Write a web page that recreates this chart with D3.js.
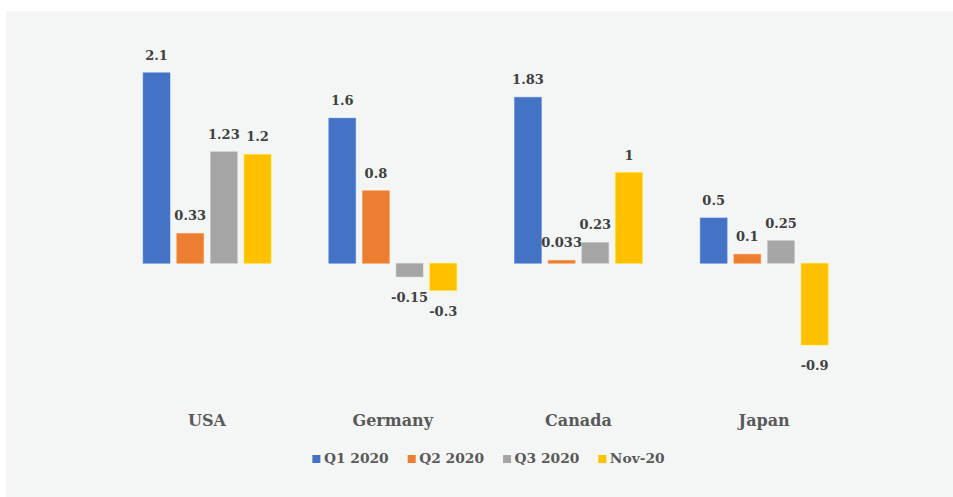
<!DOCTYPE html>
<html>
<head>
<meta charset="utf-8">
<script src="https://cdn.jsdelivr.net/npm/d3@7"></script>
<style>
  html, body { margin: 0; padding: 0; background: #ffffff; }
  svg { display: block; }
</style>
</head>
<body>
<svg id="chart" width="953" height="497"></svg>
<script>
// Growth figures by country and period
const countries = ["USA", "Germany", "Canada", "Japan"];
const seriesNames = ["Q1 2020", "Q2 2020", "Q3 2020", "Nov-20"];
const q1_2020 = [2.1, 1.6, 1.83, 0.5];
const q2_2020 = [0.33, 0.8, 0.033, 0.1];
const q3_2020 = [1.23, -0.15, 0.23, 0.25];
const nov_20 = [1.2, -0.3, 1, -0.9];
const seriesColors = ["#4472C4", "#ED7D31", "#A5A5A5", "#FFC000"];

const seriesValues = [q1_2020, q2_2020, q3_2020, nov_20];
const rows = countries.map((c, i) => ({
  country: c,
  values: seriesNames.map((s, j) => ({ series: s, value: seriesValues[j][i], color: seriesColors[j] }))
}));

const svg = d3.select("#chart");
const font = "'DejaVu Serif', Georgia, serif";

// Chart panel background
svg.append("rect")
  .attr("x", 6).attr("y", 11)
  .attr("width", 947).attr("height", 486)
  .attr("fill", "#f4f6f5");

const x0 = d3.scaleBand().domain(countries).range([114.2, 857]).paddingInner(0).paddingOuter(0);
const x1 = d3.scaleBand().domain(seriesNames).range([0, x0.bandwidth()])
  .paddingInner(0.198).paddingOuter(0.857);
const y = d3.scaleLinear().domain([-1.2, 2.4]).range([372.2, 45.5]);

const groups = svg.append("g").selectAll("g")
  .data(rows).join("g")
  .attr("transform", d => `translate(${x0(d.country)},0)`);

groups.selectAll("rect")
  .data(d => d.values).join("rect")
  .attr("x", d => x1(d.series))
  .attr("width", x1.bandwidth())
  .attr("y", d => y(Math.max(0, d.value)))
  .attr("height", d => Math.abs(y(d.value) - y(0)))
  .attr("fill", d => d.color)
  .attr("stroke", d => d3.color(d.color).brighter(0.5))
  .attr("stroke-width", 0.8)
  .attr("stroke-opacity", 0.6);

// Value labels
groups.selectAll("text")
  .data(d => d.values).join("text")
  .attr("x", d => x1(d.series) + x1.bandwidth() / 2)
  .attr("y", d => d.value >= 0 ? y(d.value) - 13 : y(d.value) + 25)
  .attr("text-anchor", "middle")
  .attr("font-family", font)
  .attr("font-weight", "bold")
  .attr("font-size", 13)
  .attr("fill", "#404040")
  .text(d => String(d.value));

// Category axis labels
const xAxis = d3.axisBottom(x0).tickSize(0).tickPadding(0);
const axisG = svg.append("g").attr("transform", "translate(0,413)").call(xAxis);
axisG.select(".domain").remove();
axisG.selectAll("text")
  .attr("dy", 0).attr("y", 13)
  .attr("font-family", font)
  .attr("font-weight", "bold")
  .attr("font-size", 16)
  .attr("fill", "#595959");

// Legend
const legend = svg.append("g");
const items = legend.selectAll("g").data(seriesNames).join("g");
items.append("rect")
  .attr("width", 8).attr("height", 8)
  .attr("y", 455)
  .attr("fill", (d, i) => seriesColors[i]);
items.append("text")
  .attr("x", 11.5).attr("y", 463)
  .attr("font-family", font)
  .attr("font-weight", "bold")
  .attr("font-size", 13.8)
  .attr("fill", "#595959")
  .text(d => d);
let widths = [];
items.each(function () { widths.push(this.getBBox().width); });
const gap = 19;
const total = d3.sum(widths) + gap * (widths.length - 1);
let cx = 488.5 - total / 2;
items.attr("transform", (d, i) => {
  const t = `translate(${cx},0)`;
  cx += widths[i] + gap;
  return t;
});
</script>
</body>
</html>
